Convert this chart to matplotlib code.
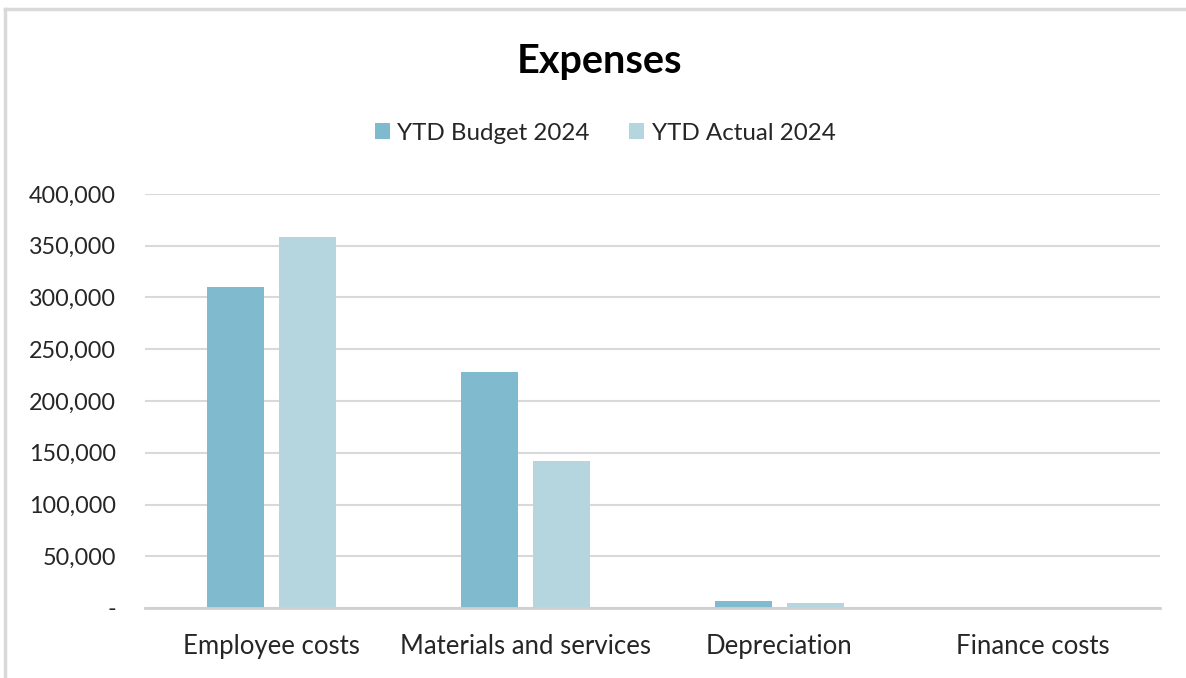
import matplotlib.pyplot as plt
import numpy as np
from matplotlib.ticker import FuncFormatter
from matplotlib.lines import Line2D

# Expense categories and year-to-date figures
categories = ["Employee costs", "Materials and services", "Depreciation", "Finance costs"]
ytd_budget = [310000, 228000, 7000, 0]
ytd_actual = [358000, 142000, 5200, 0]
yticks = [0, 50000, 100000, 150000, 200000, 250000, 300000, 350000, 400000]

BUDGET_COLOR = "#7FBACE"
ACTUAL_COLOR = "#B5D5DF"
GRID_COLOR = "#D9D9D9"
TEXT_COLOR = "#262626"

plt.rcParams['font.family'] = ['Lato', 'DejaVu Sans']

fig = plt.figure(figsize=(11.86, 6.78), dpi=100)
ax = fig.add_axes([145 / 1186, 1 - 608 / 678, (1160 - 145) / 1186, (608 - 194) / 678])

x = np.arange(len(categories))
width = 0.225
offset = 0.142
ax.bar(x - offset, ytd_budget, width, color=BUDGET_COLOR, label="YTD Budget 2024", zorder=3)
ax.bar(x + offset, ytd_actual, width, color=ACTUAL_COLOR, label="YTD Actual 2024", zorder=3)

ax.set_xlim(-0.5, len(categories) - 0.5)
ax.set_ylim(0, 400000)
ax.set_yticks(yticks)
ax.yaxis.set_major_formatter(FuncFormatter(lambda v, p: "-" if v == 0 else f"{v:,.0f}"))
ax.set_xticks(x)
ax.set_xticklabels(categories)
ax.tick_params(axis='both', length=0, labelcolor=TEXT_COLOR)
ax.tick_params(axis='y', labelsize=16.8, pad=21)
ax.tick_params(axis='x', labelsize=18.5, pad=19)

ax.grid(axis='y', color=GRID_COLOR, linewidth=1.5, zorder=0)
for side in ["top", "right", "left"]:
    ax.spines[side].set_visible(False)
ax.spines["bottom"].set_color("#D0D0D0")
ax.spines["bottom"].set_linewidth(2)
ax.spines["bottom"].set_zorder(4)

fig.text(600 / 1186, 1 - 62 / 678, "Expenses", ha="center", va="center",
         fontsize=28.5, fontweight="bold", color="black")

handles, labels = ax.get_legend_handles_labels()
fig.legend(handles, labels, loc="center", bbox_to_anchor=(605 / 1186, 1 - 133 / 678),
           ncol=2, frameon=False, fontsize=17.4, handlelength=0.65, handleheight=0.65,
           handletextpad=0.3, columnspacing=1.6, labelcolor=TEXT_COLOR)

# outer chart border (left and top edges)
fig.add_artist(Line2D([5 / 1186, 5 / 1186], [0, 1 - 9 / 678], transform=fig.transFigure,
                      color="#D9D9D9", linewidth=2.5))
fig.add_artist(Line2D([5 / 1186, 1], [1 - 9 / 678, 1 - 9 / 678], transform=fig.transFigure,
                      color="#D9D9D9", linewidth=2.5))

fig.savefig("out.png", dpi=100)
